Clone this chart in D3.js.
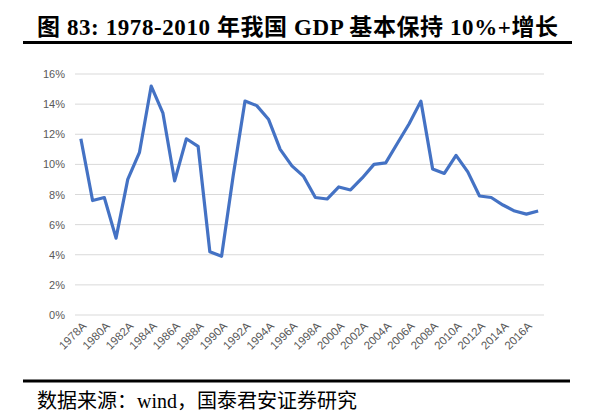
<!DOCTYPE html>
<html>
<head>
<meta charset="utf-8">
<script src="https://cdn.jsdelivr.net/npm/d3@7/dist/d3.min.js"></script>
<style>
  html, body { margin: 0; padding: 0; background: #fff; }
  svg { display: block; }
</style>
</head>
<body>
<svg id="chart" width="596" height="420"></svg>
<script>
const years = d3.range(1978, 2018).map(String);
const gdpGrowth = [11.7, 7.6, 7.8, 5.1, 9.0, 10.8, 15.2, 13.4, 8.9, 11.7,
                   11.2, 4.2, 3.9, 9.3, 14.2, 13.9, 13.0, 11.0, 9.9, 9.2,
                   7.8, 7.7, 8.5, 8.3, 9.1, 10.0, 10.1, 11.4, 12.7, 14.2,
                   9.7, 9.4, 10.6, 9.5, 7.9, 7.8, 7.3, 6.9, 6.7, 6.9];
const yTicks = [0, 2, 4, 6, 8, 10, 12, 14, 16];
const xTickYears = years.filter((d, i) => i % 2 === 0);
const titleText = "图 83: 1978-2010 年我国 GDP 基本保持 10%+增长";
const sourceText = "数据来源：wind，国泰君安证券研究";

const svg = d3.select("#chart");

// Title
svg.append("text")
  .attr("x", 37).attr("y", 35)
  .attr("font-family", "'Liberation Serif', 'Times New Roman', 'Noto Sans CJK SC', serif")
  .attr("font-weight", "bold")
  .attr("font-size", 23)
  .attr("fill", "#000")
  .attr("textLength", 521)
  .attr("lengthAdjust", "spacing")
  .text(titleText);
svg.append("line")
  .attr("x1", 23).attr("x2", 572).attr("y1", 42.5).attr("y2", 42.5)
  .attr("stroke", "#000").attr("stroke-width", 3);

// Footer
svg.append("line")
  .attr("x1", 23).attr("x2", 570).attr("y1", 381).attr("y2", 381)
  .attr("stroke", "#000").attr("stroke-width", 3);
svg.append("text")
  .attr("x", 37).attr("y", 408)
  .attr("font-family", "'Liberation Serif', 'Times New Roman', 'Noto Sans CJK SC', serif")
  .attr("font-size", 20)
  .attr("fill", "#000")
  .text(sourceText);

// Scales
const x = d3.scalePoint().domain(years).range([75, 544]).padding(0.5);
const y = d3.scaleLinear().domain([0, 16]).range([315, 74]);

// Gridlines
svg.append("g")
  .selectAll("line")
  .data(yTicks)
  .join("line")
  .attr("x1", 75).attr("x2", 544)
  .attr("y1", d => y(d)).attr("y2", d => y(d))
  .attr("stroke", "#d9d9d9").attr("stroke-width", 1);

// Y axis labels
const yAxis = d3.axisLeft(y).tickValues(yTicks).tickFormat(d => d + "%").tickSize(0).tickPadding(0);
const gy = svg.append("g").attr("transform", "translate(65,0)").call(yAxis);
gy.select(".domain").remove();
gy.selectAll("text")
  .attr("font-family", "'Liberation Sans', Arial, sans-serif")
  .attr("font-size", 11)
  .attr("fill", "#595959");

// X axis labels
const xAxis = d3.axisBottom(x).tickValues(xTickYears).tickFormat(d => d + "A").tickSize(0).tickPadding(0);
const gx = svg.append("g").attr("transform", "translate(0,315)").call(xAxis);
gx.select(".domain").remove();
gx.selectAll("text")
  .attr("font-family", "'Liberation Sans', Arial, sans-serif")
  .attr("font-size", 11.5)
  .attr("fill", "#595959")
  .attr("text-anchor", "end")
  .attr("dy", "0.35em")
  .attr("transform", "translate(3,9) rotate(-45)");

// Line
const line = d3.line()
  .x((d, i) => x(years[i]))
  .y(d => y(d));
svg.append("path")
  .datum(gdpGrowth)
  .attr("d", line)
  .attr("fill", "none")
  .attr("stroke", "#4472C4")
  .attr("stroke-width", 3.2)
  .attr("stroke-linejoin", "round");
</script>
</body>
</html>
